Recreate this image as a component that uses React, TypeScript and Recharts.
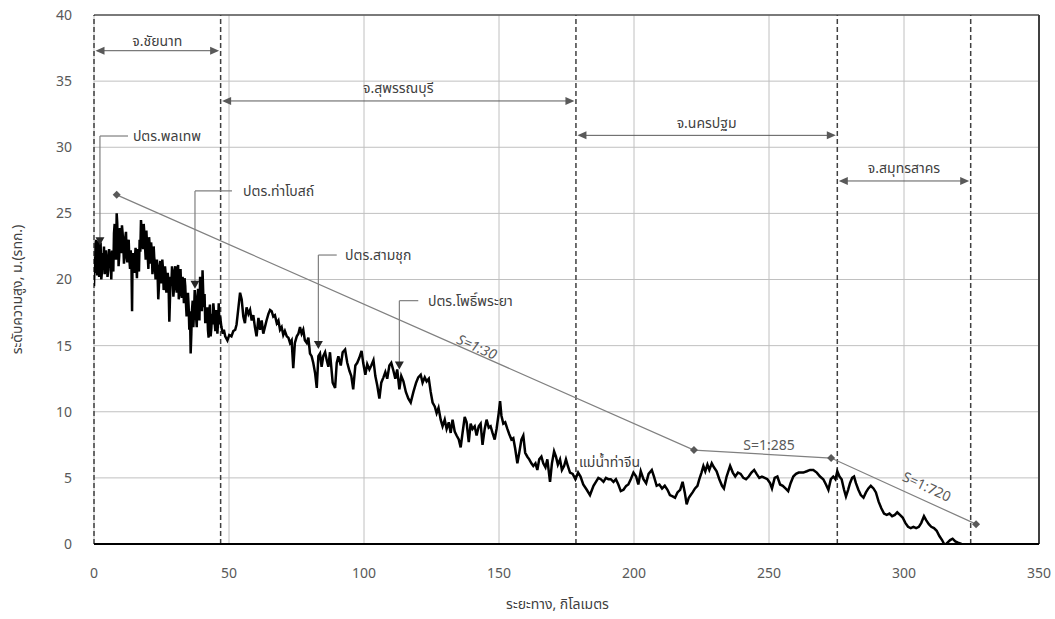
import React from 'react';
import {
  ComposedChart, Line, XAxis, YAxis, CartesianGrid, ReferenceLine, ReferenceDot, Label,
} from 'recharts';

// ---------- data ----------
const xTicks = [0, 50, 100, 150, 200, 250, 300, 350];
const yTicks = [0, 5, 10, 15, 20, 25, 30, 35, 40];
const xTitle = 'ระยะทาง, กิโลเมตร';
const yTitle = 'ระดับความสูง, ม.(รทก.)';

// river bed profile, upstream reach: [distance km, elevation m]
const profileUpper: [number, number][] = [
  [0, 19.5], [0.25, 21.7], [0.4, 20.5], [0.6, 22.7], [0.8, 23.0], [1.0, 21.0], [1.2, 20.3], [1.4, 22.9], [1.65, 22.4], [1.9, 20.2],
  [2.05, 20.5], [2.2, 22.2], [2.45, 22.8], [2.7, 20.0], [2.95, 20.6], [3.2, 22.0], [3.45, 21.3], [3.7, 22.5], [3.95, 20.4], [4.2, 21.0],
  [4.45, 22.2], [4.7, 21.6], [5.0, 20.2], [5.3, 20.7], [5.6, 22.3], [5.9, 21.5], [6.15, 21.8], [6.4, 20.0], [6.65, 22.2], [6.9, 21.0],
  [7.15, 20.6], [7.4, 23.5], [7.65, 24.2], [7.9, 22.2], [8.15, 21.5], [8.4, 25.0], [8.6, 24.3], [8.8, 22.7], [8.95, 23.5], [9.1, 21.0],
  [9.35, 21.8], [9.6, 23.9], [9.85, 22.8], [10.1, 22.0], [10.35, 24.1], [10.6, 23.5], [10.85, 22.6], [11.1, 21.2], [11.35, 22.0], [11.6, 23.2],
  [11.85, 23.6], [12.1, 21.7], [12.35, 21.3], [12.6, 22.7], [12.85, 23.0], [13.1, 21.5], [13.35, 20.8], [13.6, 22.2], [13.85, 21.5], [14.1, 17.6],
  [14.25, 21.0], [14.4, 22.0], [14.65, 21.3], [14.9, 20.5], [15.15, 21.6], [15.4, 22.4], [15.65, 21.2], [15.9, 20.1], [16.15, 22.3], [16.4, 21.2],
  [16.65, 20.6], [16.9, 23.0], [17.15, 22.1], [17.4, 24.5], [17.65, 23.8], [17.9, 23.2], [18.15, 22.3], [18.4, 24.2], [18.65, 23.5], [18.9, 22.5],
  [19.15, 21.5], [19.4, 23.7], [19.65, 22.6], [19.9, 21.7], [20.15, 20.8], [20.4, 23.2], [20.65, 22.5], [20.9, 21.2], [21.15, 22.8], [21.4, 22.2],
  [21.65, 20.4], [21.9, 21.0], [22.1, 22.5], [22.3, 21.7], [22.55, 21.2], [22.8, 20.0], [23.05, 20.9], [23.3, 21.5], [23.55, 20.4], [23.8, 18.5],
  [24.05, 19.5], [24.3, 21.0], [24.55, 21.4], [24.8, 19.7], [25.05, 20.3], [25.3, 21.5], [25.55, 20.8], [25.8, 19.2], [26.05, 19.9], [26.3, 21.0],
  [26.55, 20.4], [26.8, 19.0], [27.05, 19.6], [27.3, 20.5], [27.6, 19.8], [27.9, 16.8], [28.15, 18.6], [28.4, 20.2], [28.65, 19.6], [28.9, 21.0],
  [29.15, 20.0], [29.4, 18.7], [29.65, 19.4], [29.9, 20.7], [30.15, 21.0], [30.4, 19.5], [30.65, 19.0], [30.9, 20.5], [31.15, 21.1], [31.4, 18.5],
  [31.65, 19.0], [31.9, 20.6], [32.05, 20.8], [32.3, 19.2], [32.55, 18.6], [32.8, 20.2], [33.05, 19.6], [33.3, 18.2], [33.55, 20.1], [33.8, 19.5],
  [34.05, 18.2], [34.3, 17.2], [34.55, 18.0], [34.8, 19.0], [35.05, 18.0], [35.3, 16.2], [35.55, 17.6], [35.8, 14.4], [36.05, 15.9], [36.3, 17.7],
  [36.55, 18.4], [36.8, 16.4], [37.05, 17.5], [37.3, 19.2], [37.55, 18.0], [37.8, 17.2], [38.05, 16.4], [38.3, 18.7], [38.55, 19.3], [38.8, 17.7],
  [39.05, 16.9], [39.3, 20.2], [39.5, 19.5], [39.7, 18.5], [39.95, 17.6], [40.2, 20.7], [40.45, 19.0], [40.7, 17.9], [40.95, 18.9], [41.2, 16.7],
  [41.45, 17.6], [41.7, 17.4], [41.95, 17.9], [42.2, 16.2], [42.45, 15.6], [42.7, 17.7], [42.95, 18.1], [43.2, 15.7], [43.45, 16.3], [43.7, 17.4],
  [43.95, 16.6], [44.2, 18.2], [44.45, 17.6], [44.7, 16.7], [44.95, 16.1], [45.2, 17.7], [45.45, 17.4], [45.7, 15.9], [45.95, 16.8], [46.2, 18.2],
  [46.45, 16.6], [46.7, 17.2],
];

// river bed profile, middle and lower reach: [distance km, elevation m]
const profileLower: [number, number][] = [
  [47.2, 16.4], [47.7, 15.9], [48.1, 16.2], [48.6, 15.7], [49.4, 15.4], [50.1, 15.8], [50.9, 15.7], [51.6, 16.1], [52.3, 16.2], [52.8, 16.6],
  [53.5, 17.9], [54.1, 19.0], [54.7, 18.5], [55.3, 17.2], [55.9, 16.7], [56.5, 17.9], [57.2, 17.4], [57.8, 17.7], [58.4, 16.9], [59.0, 17.3],
  [59.6, 16.4], [60.2, 15.7], [60.9, 17.1], [61.5, 16.2], [62.1, 16.9], [62.7, 15.9], [63.3, 16.4], [63.9, 16.9], [64.6, 17.4], [65.2, 17.7],
  [65.8, 17.6], [66.4, 17.2], [67.0, 17.3], [67.7, 16.7], [68.3, 16.9], [68.9, 16.2], [69.5, 16.4], [70.1, 15.8], [70.7, 16.1], [71.4, 15.7],
  [72.0, 15.6], [72.6, 15.2], [73.2, 15.4], [73.8, 13.3], [74.4, 15.2], [75.1, 15.7], [75.7, 15.9], [76.3, 16.4], [76.9, 15.9], [77.5, 16.2],
  [78.1, 15.4], [78.8, 15.2], [79.4, 15.6], [80.0, 14.4], [80.6, 14.2], [81.2, 13.7], [81.9, 12.9], [82.5, 11.8], [83.1, 14.2], [83.7, 14.4],
  [84.3, 13.4], [84.9, 14.2], [85.6, 14.5], [86.2, 13.9], [86.8, 13.4], [87.4, 14.5], [88.4, 12.2], [89.3, 11.8], [89.9, 13.7], [90.5, 14.2],
  [91.4, 13.5], [92.1, 14.5], [93.0, 14.7], [93.8, 13.7], [94.6, 13.1], [95.3, 12.7], [96.0, 11.7], [96.8, 13.5], [97.5, 13.7], [98.3, 14.1],
  [99.1, 14.6], [99.7, 13.7], [100.5, 12.8], [101.2, 13.6], [102.0, 13.2], [102.7, 13.5], [103.5, 13.9], [104.2, 12.7], [104.9, 12.0], [105.7, 11.0],
  [106.4, 12.2], [107.2, 12.6], [107.9, 13.0], [108.6, 12.5], [109.4, 13.5], [110.1, 13.7], [110.9, 13.1], [111.6, 12.5], [112.3, 13.2], [113.1, 11.7],
  [113.8, 12.7], [114.6, 12.3], [115.5, 11.5], [116.4, 11.0], [117.3, 10.7], [118.3, 11.5], [119.3, 12.2], [120.1, 12.6], [121.0, 12.8], [121.7, 12.2],
  [122.5, 12.6], [123.2, 12.3], [124.0, 12.5], [124.7, 11.5], [125.4, 10.7], [126.2, 10.4], [126.9, 9.9], [127.6, 10.3], [128.4, 9.4], [129.1, 8.9],
  [129.9, 9.4], [130.6, 8.7], [131.4, 9.2], [132.1, 8.4], [132.8, 9.4], [133.6, 8.5], [134.3, 8.2], [135.1, 7.9], [135.8, 7.3], [136.5, 8.4],
  [137.3, 9.6], [138.0, 9.2], [138.8, 7.7], [139.5, 9.1], [140.2, 8.7], [141.0, 8.9], [141.7, 8.2], [142.5, 8.9], [143.2, 9.1], [143.9, 7.5],
  [144.7, 8.7], [145.4, 9.4], [146.2, 8.8], [146.9, 8.9], [147.6, 8.4], [148.4, 7.9], [149.1, 8.7], [149.9, 9.9], [150.4, 10.8], [150.9, 9.7],
  [151.6, 9.1], [152.3, 9.2], [153.1, 8.7], [153.8, 8.3], [154.6, 7.9], [155.3, 8.0], [156.0, 7.2], [156.8, 6.1], [157.5, 6.9], [158.3, 7.9],
  [159.0, 8.2], [159.7, 6.9], [160.5, 6.6], [161.2, 6.4], [162.0, 6.1], [162.7, 5.9], [163.5, 6.1], [164.2, 5.6], [164.9, 6.4], [165.7, 6.6],
  [166.4, 6.1], [167.2, 5.8], [167.9, 6.4], [168.9, 4.7], [169.6, 6.1], [170.4, 7.0], [171.1, 6.6], [171.8, 6.0], [172.6, 6.4], [173.3, 5.6],
  [174.1, 5.9], [174.8, 6.4], [175.5, 5.9], [176.3, 5.4], [177.3, 5.3], [178.3, 4.9], [179.3, 5.4], [180.2, 5.1], [181.2, 4.5], [182.5, 4.1],
  [183.7, 3.7], [185.0, 4.4], [185.9, 4.7], [186.8, 5.0], [187.7, 4.9], [188.7, 4.7], [189.6, 5.0], [190.5, 4.9], [191.4, 4.9], [192.4, 4.7],
  [193.3, 4.9], [194.2, 4.5], [195.1, 4.0], [196.1, 4.1], [197.1, 4.4], [197.9, 4.5], [198.8, 4.9], [199.8, 5.4], [200.8, 5.1], [201.6, 4.5],
  [202.5, 5.5], [203.5, 4.9], [204.5, 4.6], [205.4, 5.3], [206.6, 5.6], [207.4, 5.1], [208.4, 4.4], [209.4, 4.5], [210.4, 4.2], [211.4, 4.4],
  [212.4, 4.1], [213.3, 3.7], [214.3, 3.6], [215.2, 3.5], [216.1, 3.9], [217.1, 4.1], [218.0, 4.7], [218.8, 3.9], [219.5, 3.0], [220.3, 3.5],
  [221.0, 3.7], [221.7, 3.9], [222.6, 4.2], [223.5, 4.4], [224.2, 4.9], [225.0, 5.4], [225.7, 5.9], [226.4, 5.5], [227.2, 6.0], [227.9, 5.6],
  [228.8, 6.1], [229.6, 5.8], [230.6, 5.5], [231.6, 4.9], [232.6, 4.4], [233.3, 4.2], [234.3, 5.1], [235.6, 5.9], [236.6, 5.4], [237.5, 5.1],
  [238.5, 5.4], [239.5, 5.3], [240.5, 5.0], [241.5, 4.9], [242.5, 5.1], [243.5, 5.4], [244.5, 5.6], [245.4, 5.3], [246.4, 5.0], [247.4, 5.1],
  [248.4, 5.0], [249.4, 4.9], [250.4, 4.6], [251.1, 4.2], [252.1, 5.0], [253.1, 5.1], [254.1, 4.5], [255.1, 4.4], [256.1, 4.2], [257.1, 4.0],
  [258.0, 4.6], [259.0, 5.1], [260.0, 5.3], [261.0, 5.4], [262.7, 5.4], [264.0, 5.5], [265.2, 5.6], [266.4, 5.6], [267.7, 5.4], [268.9, 5.1],
  [270.1, 4.9], [271.1, 4.5], [272.0, 4.1], [272.9, 4.9], [273.8, 5.1], [274.6, 4.9], [275.3, 5.5], [276.1, 5.1], [276.9, 4.9], [277.8, 4.1],
  [278.5, 3.6], [279.3, 4.1], [280.0, 4.6], [280.8, 5.0], [281.5, 5.1], [282.2, 4.6], [283.1, 4.1], [284.0, 3.7], [285.0, 3.5], [285.9, 3.9],
  [286.8, 4.2], [287.7, 4.4], [288.7, 4.2], [289.6, 3.9], [290.6, 3.2], [291.6, 2.7], [292.6, 2.3], [293.6, 2.2], [294.6, 2.3], [295.6, 2.1],
  [296.6, 2.2], [297.5, 2.4], [298.5, 2.2], [299.5, 2.0], [300.5, 1.6], [301.5, 1.3], [302.5, 1.2], [303.5, 1.3], [304.5, 1.2], [305.5, 1.3],
  [306.4, 1.6], [307.4, 2.1], [308.2, 1.8], [309.2, 1.5], [310.1, 1.3], [311.1, 1.2], [312.1, 1.0], [313.1, 0.6], [314.1, 0.3], [315.1, -0.1],
  [316.1, 0.1], [317.1, 0.3], [318.0, 0.4], [319.0, 0.2], [320.0, 0.1], [321.3, 0.0],
];

// bed slope line
const slopeKm = [8.4, 222.2, 273.0, 326.7];
const slopeElev = [26.4, 7.1, 6.5, 1.5];
const slopeLabels = ['S=1:30', 'S=1:285', 'S=1:720'];
const slopeLabelKm = [141.8, 250.0, 308.4];
const slopeLabelElev = [14.9, 7.5, 4.33];
const slopeLabelAngle = [24, 0, 25];
const slopeLabelItalic = [true, false, false];

// province boundaries
const boundaryKm = [0, 46.9, 178.5, 275.3, 324.7];
const provinceNames = ['จ.ชัยนาท', 'จ.สุพรรณบุรี', 'จ.นครปฐม', 'จ.สมุทรสาคร'];
const provinceArrowElev = [37.3, 33.5, 30.9, 27.45];
const provinceTextElev = [38.0, 34.5, 31.8, 28.45];

// regulators (stations)
const stationNames = ['ปตร.พลเทพ', 'ปตร.ท่าโบสถ์', 'ปตร.สามชุก', 'ปตร.โพธิ์พระยา'];
const stationKm = [2.2, 37.4, 83.1, 113.1];
const stationLabelElev = [30.85, 26.7, 21.85, 18.4];
const stationMarkElev = [22.9, 19.6, 15.05, 13.5];
const stationLeaderEndKm = [12.6, 51.1, 89.9, 120.1];
const stationTextKm = [14.4, 55.2, 93.0, 123.7];

const riverName = 'แม่น้ำท่าจีน';
const riverLabelKm = 179.6;
const riverLabelElev = 6.2;

// ---------- styles ----------
const FONT = 'Tahoma, "Noto Sans", "Noto Sans Thai", "DejaVu Sans", sans-serif';
const TXT = '#404040';

const profileData = [...profileUpper, ...profileLower].map(([km, elev]) => ({ km, elev }));
const slopeData = slopeKm.map((km, i) => ({ km, slope: slopeElev[i] }));

const ArrowShape = (props: any) => {
  const { x1, y1, x2, y2 } = props;
  const a = Math.min(x1, x2) + 1.5;
  const b = Math.max(x1, x2) - 1.5;
  const h = 9;
  const w = 4;
  return (
    <g>
      <line x1={a + 2} y1={y1} x2={b - 2} y2={y2} stroke="#595959" strokeWidth={1} />
      <polygon points={`${a},${y1} ${a + h},${y1 - w} ${a + h},${y1 + w}`} fill="#595959" />
      <polygon points={`${b},${y2} ${b - h},${y2 - w} ${b - h},${y2 + w}`} fill="#595959" />
    </g>
  );
};

const TriShape = (props: any) => {
  const { cx, cy } = props;
  return <polygon points={`${cx - 4.5},${cy - 4} ${cx + 4.5},${cy - 4} ${cx},${cy + 4}`} fill="#262626" />;
};

const makeText = (text: string, anchor: string, opts: any = {}) => (props: any) => {
  const { cx, cy } = props;
  const angle = opts.angle || 0;
  return (
    <text
      x={cx}
      y={cy}
      dy="0.35em"
      textAnchor={anchor}
      fontFamily={FONT}
      fontSize={opts.size || 14}
      fontStyle={opts.italic ? 'italic' : 'normal'}
      fill={opts.color || TXT}
      transform={angle ? `rotate(${angle} ${cx} ${cy})` : undefined}
    >
      {text}
    </text>
  );
};

const Diamond = (props: any) => {
  const { cx, cy, index } = props;
  const s = 4;
  return (
    <path
      key={`d-${index}`}
      d={`M${cx},${cy - s} L${cx + s},${cy} L${cx},${cy + s} L${cx - s},${cy} Z`}
      fill="#595959"
    />
  );
};

const YTitle = (props: any) => {
  const vb = props.viewBox || {};
  const x = (vb.x || 0) + 17;
  const y = (vb.y || 0) + vb.height / 2 + 10;
  return (
    <text x={x} y={y} dy="0.35em" textAnchor="middle" fontFamily={FONT} fontSize={14} fill={TXT}
      transform={`rotate(-90 ${x} ${y})`}>
      {yTitle}
    </text>
  );
};

const XTitle = (props: any) => {
  const vb = props.viewBox || {};
  const x = (vb.x || 0) + vb.width / 2 - 9;
  const y = (vb.y || 0) + 60;
  return (
    <text x={x} y={y} dy="0.35em" textAnchor="middle" fontFamily={FONT} fontSize={14} fill={TXT}>
      {xTitle}
    </text>
  );
};

export default function App() {
  return (
    <div style={{ position: 'absolute', left: 0, top: 0, width: 1055, height: 619, background: '#fff' }}>
      <ComposedChart
        width={1055}
        height={619}
        margin={{ top: 15, right: 16, bottom: 45, left: 0 }}
      >
        <CartesianGrid stroke="#C0C0C0" strokeWidth={1} />
        <XAxis
          type="number"
          dataKey="km"
          domain={[0, 350]}
          ticks={xTicks}
          allowDataOverflow
          tickLine={false}
          axisLine={{ stroke: '#000', strokeWidth: 2 }}
          height={30}
          tickMargin={18}
          tick={{ fill: '#595959', fontSize: 14, fontFamily: FONT }}
        >
          <Label content={<XTitle />} />
        </XAxis>
        <YAxis
          type="number"
          domain={[0, 40]}
          ticks={yTicks}
          allowDataOverflow
          tickLine={false}
          axisLine={false}
          width={94}
          tickMargin={16}
          tick={{ fill: '#595959', fontSize: 14, fontFamily: FONT }}
        >
          <Label content={<YTitle />} />
        </YAxis>

        <ReferenceLine y={40} stroke="#595959" strokeWidth={1.5} />
        <ReferenceLine x={350} stroke="#404040" strokeWidth={2} />

        {boundaryKm.map((km, i) => (
          <ReferenceLine key={`b-${i}`} x={km} stroke="#404040" strokeWidth={1.5} strokeDasharray="5 3" />
        ))}

        {provinceNames.map((name, i) => (
          <ReferenceLine
            key={`pa-${i}`}
            segment={[{ x: boundaryKm[i], y: provinceArrowElev[i] }, { x: boundaryKm[i + 1], y: provinceArrowElev[i] }]}
            shape={<ArrowShape />}
          />
        ))}
        {provinceNames.map((name, i) => (
          <ReferenceDot
            key={`pt-${i}`}
            x={(boundaryKm[i] + boundaryKm[i + 1]) / 2}
            y={provinceTextElev[i]}
            r={0}
            shape={makeText(name, 'middle')}
          />
        ))}

        {stationNames.map((name, i) => (
          <ReferenceLine
            key={`sv-${i}`}
            segment={[{ x: stationKm[i], y: stationLabelElev[i] }, { x: stationKm[i], y: stationMarkElev[i] }]}
            stroke="#7F7F7F"
            strokeWidth={1.2}
          />
        ))}
        {stationNames.map((name, i) => (
          <ReferenceLine
            key={`sh-${i}`}
            segment={[{ x: stationKm[i], y: stationLabelElev[i] }, { x: stationLeaderEndKm[i], y: stationLabelElev[i] }]}
            stroke="#7F7F7F"
            strokeWidth={1.2}
          />
        ))}
        {stationNames.map((name, i) => (
          <ReferenceDot
            key={`st-${i}`}
            x={stationTextKm[i]}
            y={stationLabelElev[i]}
            r={0}
            shape={makeText(name, 'start')}
          />
        ))}

        <Line
          data={profileData}
          dataKey="elev"
          type="linear"
          stroke="#000"
          strokeWidth={2.5}
          dot={false}
          isAnimationActive={false}
        />
        <Line
          data={slopeData}
          dataKey="slope"
          type="linear"
          stroke="#808080"
          strokeWidth={1.2}
          dot={<Diamond />}
          isAnimationActive={false}
        />

        {stationNames.map((name, i) => (
          <ReferenceDot key={`sm-${i}`} x={stationKm[i]} y={stationMarkElev[i]} r={4} shape={<TriShape />} />
        ))}

        {slopeLabels.map((s, i) => (
          <ReferenceDot
            key={`sl-${i}`}
            x={slopeLabelKm[i]}
            y={slopeLabelElev[i]}
            r={0}
            shape={makeText(s, 'middle', { angle: slopeLabelAngle[i], italic: slopeLabelItalic[i], color: '#595959' })}
          />
        ))}

        <ReferenceDot x={riverLabelKm} y={riverLabelElev} r={0} shape={makeText(riverName, 'start')} />
      </ComposedChart>
    </div>
  );
}
